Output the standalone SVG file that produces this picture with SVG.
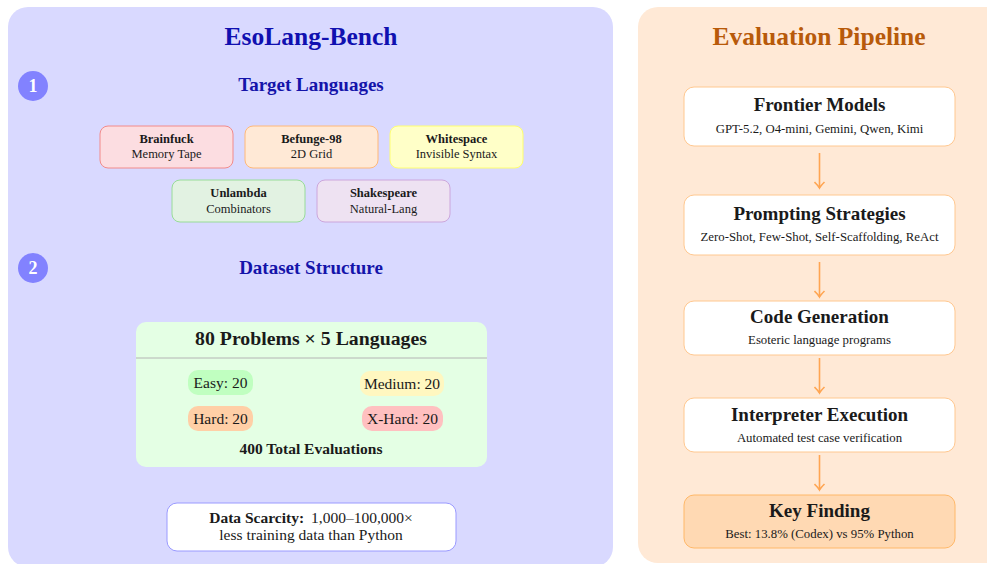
<svg xmlns="http://www.w3.org/2000/svg" width="987" height="564" viewBox="0 0 987 564">
<style>
text{font-family:"Liberation Serif","Times New Roman",serif;text-anchor:middle;fill:#1a1a1a}
.h1{font-size:25.5px;font-weight:bold}
.h2{font-size:19px;font-weight:bold;fill:#1414aa}
.num{font-size:18px;font-weight:bold;fill:#fff}
.ln{font-size:12.5px;font-weight:bold}
.ls{font-size:12.5px}
.pt{font-size:19px;font-weight:bold}
.ps{font-size:12.8px}
.pill{font-size:15.5px}
.pbox{fill:#fff;stroke:#ffc890;stroke-width:1}
.conn{stroke:#ffa552;stroke-width:1.6;fill:none}
</style>
<defs>
<marker id="ah" viewBox="-8 -6 10 12" markerWidth="10" markerHeight="12" refX="0" refY="0" orient="auto" markerUnits="userSpaceOnUse">
<path d="M-6,-5 Q-2,-1 0,0 Q-2,1 -6,5" fill="none" stroke="#ffa552" stroke-width="1.6"/>
</marker>
</defs>
<rect width="987" height="564" fill="#fff"/>
<g id="left-panel">
<rect x="8" y="7" width="605" height="560" rx="20" fill="#d9d9ff"/>
<text x="311" y="45" class="h1" style="fill:#1010b0">EsoLang-Bench</text>
</g>
<g id="section1">
<circle cx="33" cy="86" r="15" fill="#8282ff"/>
<text x="33" y="92" class="num">1</text>
<text x="311" y="91" class="h2">Target Languages</text>
</g>
<g id="brainfuck">
<rect x="100" y="126" width="133" height="42" rx="8" fill="#fcdde1" stroke="#f28a8a"/>
<text x="166.5" y="143" class="ln">Brainfuck</text>
<text x="166.5" y="158" class="ls">Memory Tape</text>
</g>
<g id="befunge">
<rect x="245" y="126" width="133" height="42" rx="8" fill="#ffe9d6" stroke="#ffb878"/>
<text x="311.5" y="143" class="ln">Befunge-98</text>
<text x="311.5" y="158" class="ls">2D Grid</text>
</g>
<g id="whitespace">
<rect x="390" y="126" width="133" height="42" rx="8" fill="#ffffc8" stroke="#ffff70"/>
<text x="456.5" y="143" class="ln">Whitespace</text>
<text x="456.5" y="158" class="ls">Invisible Syntax</text>
</g>
<g id="unlambda">
<rect x="172" y="180" width="133" height="42" rx="8" fill="#e2f2e2" stroke="#98dc98"/>
<text x="238.5" y="197" class="ln">Unlambda</text>
<text x="238.5" y="213" class="ls">Combinators</text>
</g>
<g id="shakespeare">
<rect x="317" y="180" width="133" height="42" rx="8" fill="#eee2f2" stroke="#cca6dc"/>
<text x="383.5" y="197" class="ln">Shakespeare</text>
<text x="383.5" y="213" class="ls">Natural-Lang</text>
</g>
<g id="section2">
<circle cx="33" cy="268" r="15" fill="#8282ff"/>
<text x="33" y="274" class="num">2</text>
<text x="311" y="274" class="h2">Dataset Structure</text>
</g>
<g id="dataset">
<rect x="136" y="322" width="351" height="145" rx="10" fill="#e4ffe4"/>
<text x="311" y="345" class="pt" style="font-size:19.8px">80 Problems × 5 Languages</text>
<line x1="136" y1="358" x2="487" y2="358" stroke="#b4b4b4" stroke-width="1"/>
<rect x="188" y="370" width="65" height="25" rx="10" fill="#c0ffc0"/>
<text x="220.5" y="388" class="pill">Easy: 20</text>
<rect x="360" y="371" width="84" height="25" rx="10" fill="#fff7c0"/>
<text x="402" y="389" class="pill">Medium: 20</text>
<rect x="188" y="406" width="65" height="25" rx="10" fill="#ffcfa6"/>
<text x="220.5" y="424" class="pill">Hard: 20</text>
<rect x="362" y="406" width="81" height="25" rx="10" fill="#ffc0c0"/>
<text x="402.5" y="424" class="pill">X-Hard: 20</text>
<text x="311" y="454" class="pill" font-weight="bold">400 Total Evaluations</text>
</g>
<g id="scarcity">
<rect x="167" y="503" width="289" height="48" rx="10" fill="#fff" stroke="#9a9aff"/>
<text x="311" y="523" class="pill"><tspan font-weight="bold">Data Scarcity:</tspan><tspan dx="7">1,000–100,000×</tspan></text>
<text x="311" y="540" class="pill">less training data than Python</text>
</g>
<g id="right-panel">
<rect x="638" y="7" width="370" height="556" rx="20" fill="#ffe9d6"/>
<text x="819" y="45" class="h1" style="fill:#b85a0a">Evaluation Pipeline</text>
</g>
<g id="frontier">
<rect x="684" y="87" width="271" height="59" rx="10" class="pbox"/>
<text x="819.5" y="111" class="pt">Frontier Models</text>
<text x="819.5" y="133" class="ps">GPT-5.2, O4-mini, Gemini, Qwen, Kimi</text>
</g>
<g id="prompting">
<rect x="684" y="195" width="271" height="60" rx="10" class="pbox"/>
<text x="819.5" y="220" class="pt">Prompting Strategies</text>
<text x="819.5" y="241" class="ps">Zero-Shot, Few-Shot, Self-Scaffolding, ReAct</text>
</g>
<g id="codegen">
<rect x="684" y="301" width="271" height="54" rx="10" class="pbox"/>
<text x="819.5" y="323" class="pt">Code Generation</text>
<text x="819.5" y="344" class="ps">Esoteric language programs</text>
</g>
<g id="interpreter">
<rect x="684" y="398" width="271" height="54" rx="10" class="pbox"/>
<text x="819.5" y="421" class="pt">Interpreter Execution</text>
<text x="819.5" y="442" class="ps">Automated test case verification</text>
</g>
<g id="keyfinding">
<rect x="684" y="495" width="271" height="53" rx="10" fill="#ffd9b3" stroke="#ffb868"/>
<text x="819.5" y="517" class="pt">Key Finding</text>
<text x="819.5" y="538" class="ps">Best: 13.8% (Codex) vs 95% Python</text>
</g>
<g id="connectors">
<line x1="819.5" y1="153" x2="819.5" y2="188" class="conn" marker-end="url(#ah)"/>
<line x1="819.5" y1="262" x2="819.5" y2="297" class="conn" marker-end="url(#ah)"/>
<line x1="819.5" y1="358" x2="819.5" y2="393" class="conn" marker-end="url(#ah)"/>
<line x1="819.5" y1="455" x2="819.5" y2="490" class="conn" marker-end="url(#ah)"/>
</g>
</svg>
